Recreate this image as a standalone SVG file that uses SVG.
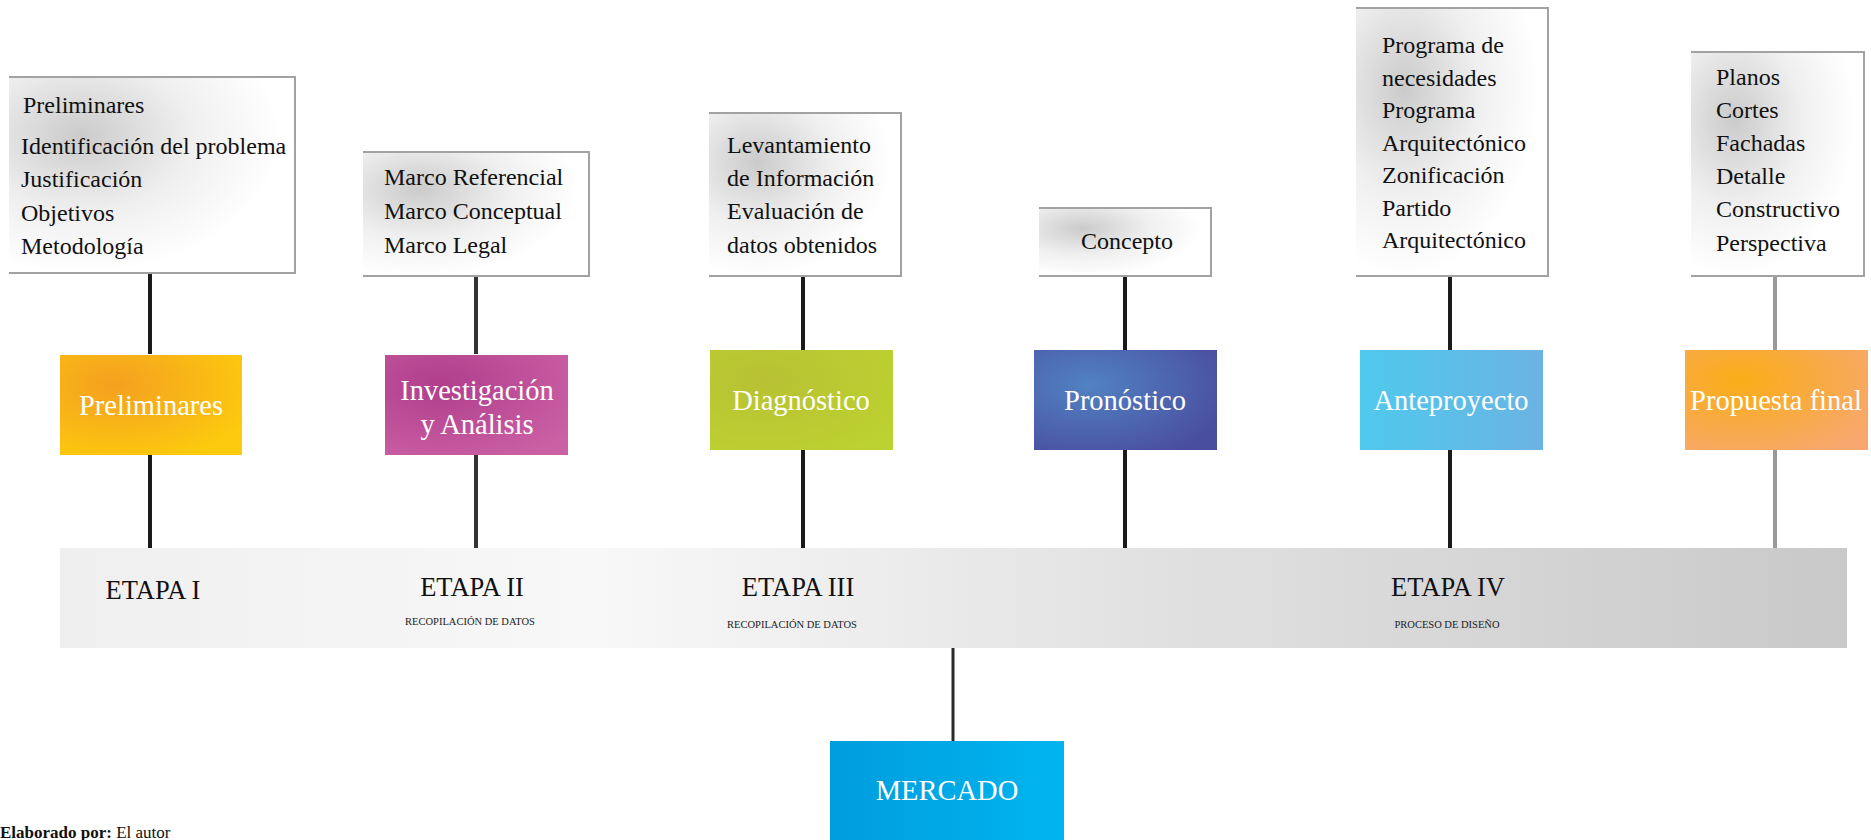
<svg xmlns="http://www.w3.org/2000/svg" width="1871" height="840" viewBox="0 0 1871 840">
<defs>
<radialGradient id="gBox" cx="0.25" cy="0.3" r="0.7">
<stop offset="0" stop-color="#cbcbcb"/><stop offset="0.55" stop-color="#efefef"/><stop offset="1" stop-color="#ffffff"/>
</radialGradient>
<linearGradient id="gBand" x1="0" y1="0" x2="1" y2="0">
<stop offset="0" stop-color="#efefef"/><stop offset="0.3" stop-color="#f8f8f8"/><stop offset="0.6" stop-color="#e2e2e2"/><stop offset="1" stop-color="#c9c9c9"/>
</linearGradient>
<radialGradient id="gPre" cx="0.3" cy="0.3" r="0.8">
<stop offset="0" stop-color="#f4a020"/><stop offset="1" stop-color="#fdca0e"/>
</radialGradient>
<radialGradient id="gInv" cx="0.3" cy="0.3" r="0.85">
<stop offset="0" stop-color="#b03e8c"/><stop offset="1" stop-color="#cb60a4"/>
</radialGradient>
<radialGradient id="gDia" cx="0.3" cy="0.3" r="0.85">
<stop offset="0" stop-color="#b8c134"/><stop offset="1" stop-color="#bcd230"/>
</radialGradient>
<radialGradient id="gPro" cx="0.3" cy="0.35" r="0.8">
<stop offset="0" stop-color="#5182c2"/><stop offset="1" stop-color="#4a4e9f"/>
</radialGradient>
<linearGradient id="gAnt" x1="0" y1="0" x2="1" y2="0">
<stop offset="0" stop-color="#4fc9ed"/><stop offset="1" stop-color="#6bb3e3"/>
</linearGradient>
<radialGradient id="gPf" cx="0.3" cy="0.3" r="0.85">
<stop offset="0" stop-color="#f9ad17"/><stop offset="1" stop-color="#f8a86e"/>
</radialGradient>
<linearGradient id="gMer" x1="0" y1="0" x2="1" y2="0">
<stop offset="0" stop-color="#009ddd"/><stop offset="1" stop-color="#00b5ef"/>
</linearGradient>
</defs>
<style>
.tb{fill:url(#gBox)}
.tbe{fill:none;stroke:#a2a2a2;stroke-width:2}
.t{font-family:"Liberation Serif","Times New Roman",serif;font-size:24px;fill:#111}
.s{font-family:"Liberation Serif","Times New Roman",serif;font-size:28.5px;fill:#fff;text-anchor:middle}
.e{font-family:"Liberation Serif","Times New Roman",serif;font-size:26.5px;fill:#111;text-anchor:middle}
.sub{font-family:"Liberation Serif","Times New Roman",serif;font-size:10.5px;fill:#222;text-anchor:middle}
.ln{stroke:#1a1a1a;stroke-width:4;fill:none}
</style>

<g id="band">
<rect x="60" y="548" width="1787" height="100" fill="url(#gBand)"/>
<text class="e" x="153" y="599">ETAPA I</text>
<text class="e" x="472" y="596">ETAPA II</text>
<text class="sub" x="470" y="625">RECOPILACIÓN DE DATOS</text>
<text class="e" x="798" y="596">ETAPA III</text>
<text class="sub" x="792" y="628">RECOPILACIÓN DE DATOS</text>
<text class="e" x="1448" y="596">ETAPA IV</text>
<text class="sub" x="1447" y="628">PROCESO DE DISEÑO</text>
</g>

<g id="connectors">
<line class="ln" x1="150" y1="273" x2="150" y2="354"/>
<line class="ln" x1="150" y1="455" x2="150" y2="548"/>
<line class="ln" x1="476" y1="276" x2="476" y2="354" style="stroke:#333"/>
<line class="ln" x1="476" y1="455" x2="476" y2="548" style="stroke:#333"/>
<line class="ln" x1="803" y1="276" x2="803" y2="350"/>
<line class="ln" x1="803" y1="450" x2="803" y2="548"/>
<line class="ln" x1="1125" y1="276" x2="1125" y2="350"/>
<line class="ln" x1="1125" y1="450" x2="1125" y2="548"/>
<line class="ln" x1="1450" y1="276" x2="1450" y2="350"/>
<line class="ln" x1="1450" y1="450" x2="1450" y2="548"/>
<line class="ln" x1="1775" y1="276" x2="1775" y2="350" style="stroke:#9a9a9a"/>
<line class="ln" x1="1775" y1="450" x2="1775" y2="548" style="stroke:#9a9a9a"/>
<line x1="953" y1="648" x2="953" y2="741" stroke="#2a2a2a" stroke-width="3"/>
</g>

<g id="box-preliminares">
<rect class="tb" x="9" y="77" width="286" height="196"/>
<path class="tbe" d="M9,77 H295 V273 H9"/>
<text class="t" x="23" y="113">Preliminares</text>
<text class="t" x="21" y="154">Identificación del problema</text>
<text class="t" x="21" y="187">Justificación</text>
<text class="t" x="21" y="221">Objetivos</text>
<text class="t" x="21" y="254">Metodología</text>
</g>

<g id="box-marcos">
<rect class="tb" x="363" y="152" width="226" height="124"/>
<path class="tbe" d="M363,152 H589 V276 H363"/>
<text class="t" x="384" y="185">Marco Referencial</text>
<text class="t" x="384" y="219">Marco Conceptual</text>
<text class="t" x="384" y="253">Marco Legal</text>
</g>

<g id="box-levantamiento">
<rect class="tb" x="709" y="113" width="192" height="163"/>
<path class="tbe" d="M709,113 H901 V276 H709"/>
<text class="t" x="727" y="153">Levantamiento</text>
<text class="t" x="727" y="186">de Información</text>
<text class="t" x="727" y="219">Evaluación de</text>
<text class="t" x="727" y="253">datos obtenidos</text>
</g>

<g id="box-concepto">
<rect class="tb" x="1039" y="208" width="172" height="68"/>
<path class="tbe" d="M1039,208 H1211 V276 H1039"/>
<text class="t" x="1127" y="249" text-anchor="middle">Concepto</text>
</g>

<g id="box-programa">
<rect class="tb" x="1356" y="8" width="192" height="268"/>
<path class="tbe" d="M1356,8 H1548 V276 H1356"/>
<text class="t" x="1382" y="53">Programa de</text>
<text class="t" x="1382" y="86">necesidades</text>
<text class="t" x="1382" y="118">Programa</text>
<text class="t" x="1382" y="151">Arquitectónico</text>
<text class="t" x="1382" y="183">Zonificación</text>
<text class="t" x="1382" y="216">Partido</text>
<text class="t" x="1382" y="248">Arquitectónico</text>
</g>

<g id="box-planos">
<rect class="tb" x="1691" y="52" width="173" height="224"/>
<path class="tbe" d="M1691,52 H1864 V276 H1691"/>
<text class="t" x="1716" y="85">Planos</text>
<text class="t" x="1716" y="118">Cortes</text>
<text class="t" x="1716" y="151">Fachadas</text>
<text class="t" x="1716" y="184">Detalle</text>
<text class="t" x="1716" y="217">Constructivo</text>
<text class="t" x="1716" y="251">Perspectiva</text>
</g>

<g id="stage-preliminares">
<rect x="60" y="355" width="182" height="100" fill="url(#gPre)"/>
<text class="s" x="151" y="415">Preliminares</text>
</g>
<g id="stage-investigacion">
<rect x="385" y="355" width="183" height="100" fill="url(#gInv)"/>
<text class="s" x="477" y="400">Investigación</text>
<text class="s" x="477" y="434">y Análisis</text>
</g>
<g id="stage-diagnostico">
<rect x="710" y="350" width="183" height="100" fill="url(#gDia)"/>
<text class="s" x="801" y="410">Diagnóstico</text>
</g>
<g id="stage-pronostico">
<rect x="1034" y="350" width="183" height="100" fill="url(#gPro)"/>
<text class="s" x="1125" y="410">Pronóstico</text>
</g>
<g id="stage-anteproyecto">
<rect x="1360" y="350" width="183" height="100" fill="url(#gAnt)"/>
<text class="s" x="1451" y="410">Anteproyecto</text>
</g>
<g id="stage-propuesta">
<rect x="1685" y="350" width="183" height="100" fill="url(#gPf)"/>
<text class="s" x="1776" y="410">Propuesta final</text>
</g>

<g id="mercado">
<rect x="830" y="741" width="234" height="110" fill="url(#gMer)"/>
<text class="s" x="947" y="800">MERCADO</text>
</g>

<g id="footer">
<text x="0" y="838" font-family="'Liberation Serif','Times New Roman',serif" font-size="17" fill="#111"><tspan font-weight="bold">Elaborado por:</tspan> El autor</text>
</g>
</svg>
